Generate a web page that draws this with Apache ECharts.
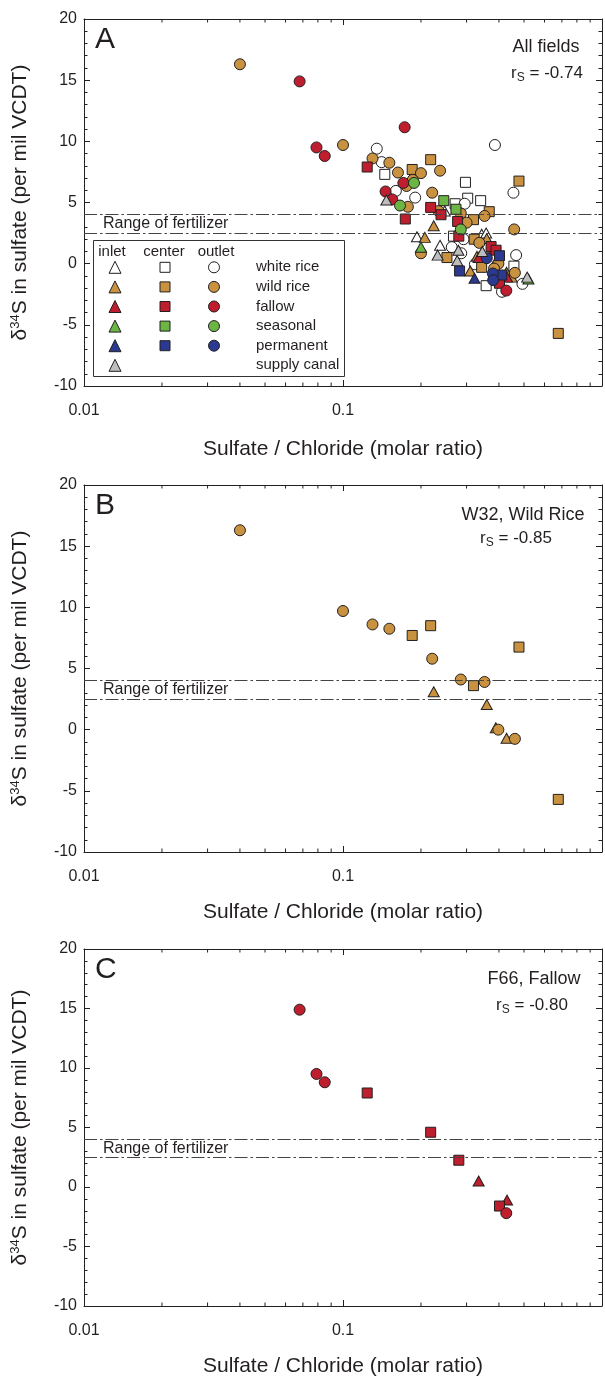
<!DOCTYPE html>
<html><head><meta charset="utf-8">
<script src="https://cdn.jsdelivr.net/npm/echarts@6.0.0/dist/echarts.min.js"></script>
<style>html,body{margin:0;padding:0;background:#fff}#c{width:605px;height:1378px}</style>
</head><body><div id="c"></div>
<script>
// ---------- DATA ----------
// Panel B: W32, wild rice field
const w32Inlet  = [[0.224,3.1],[0.359,2.05],[0.389,0.15],[0.428,-0.7]];
const w32Center = [[0.185,7.7],[0.218,8.5],[0.319,3.6],[0.478,6.75],[0.678,-5.7]];
const w32Outlet = [[0.04,16.3],[0.1,9.7],[0.13,8.6],[0.151,8.25],[0.221,5.8],[0.285,4.1],[0.352,3.9],[0.398,0.0],[0.461,-0.75]];
// Panel C: F66, fallow field
const f66Inlet  = [[0.334,0.5],[0.43,-1.1]];
const f66Center = [[0.124,7.9],[0.218,4.6],[0.28,2.25],[0.402,-1.6]];
const f66Outlet = [[0.068,14.9],[0.079,9.5],[0.085,8.8],[0.427,-2.2]];
// Panel A: other fields
const whiteInlet  = [[0.247,4.3],[0.193,2.2],[0.237,1.5],[0.343,2.4],[0.357,2.5]];
const whiteCenter = [[0.145,7.3],[0.297,6.65],[0.271,4.9],[0.303,5.35],[0.34,5.15],[0.267,2.25],[0.457,-0.2],[0.357,-1.8]];
const whiteOutlet = [[0.135,9.4],[0.386,9.7],[0.141,8.3],[0.455,5.8],[0.16,5.95],[0.19,5.4],[0.295,4.9],[0.263,1.35],[0.286,0.85],[0.292,2.0],[0.466,0.7],[0.493,-1.65],[0.411,-2.3],[0.323,-0.05]];
const wildInletOther  = [[0.207,2.15],[0.31,-0.6],[0.329,0.6],[0.448,-1.1]];
const wildCenterOther = [[0.367,4.25],[0.252,0.5],[0.321,2.0],[0.343,-0.3]];
const wildOutletOther = [[0.163,7.45],[0.2,7.4],[0.237,7.6],[0.186,6.85],[0.176,6.35],[0.178,4.65],[0.234,4.3],[0.3,3.35],[0.458,2.8],[0.2,0.85],[0.336,1.7],[0.383,-0.4]];
const fallowInletOther  = [[0.381,1.15]];
const fallowCenterOther = [[0.174,3.65],[0.239,4.0],[0.277,3.45],[0.373,1.4],[0.39,1.1]];
const fallowOutletOther = [[0.173,11.15],[0.171,6.6],[0.146,5.9],[0.155,5.25]];
const seasonalInlet  = [[0.2,1.35],[0.52,-1.25]];
const seasonalCenter = [[0.245,5.15],[0.273,4.45]];
const seasonalOutlet = [[0.188,6.6],[0.166,4.75],[0.285,2.8]];
const permanentInlet  = [[0.322,-1.2]];
const permanentCenter = [[0.282,-0.6],[0.402,0.65],[0.41,-0.93]];
const permanentOutlet = [[0.359,0.45],[0.379,-0.8],[0.38,-1.35]];
const supplyCanal = [[0.147,5.2],[0.232,0.7],[0.279,1.1],[0.276,0.25],[0.345,1.0],[0.514,-1.1]];

const fertilizerRange = [2.5, 4];
const minorXTicks = [0.02,0.03,0.04,0.05,0.06,0.07,0.08,0.09,0.2,0.3,0.4,0.5,0.6,0.7,0.8,0.9];
const landTypes = ['white rice','wild rice','fallow','seasonal','permanent','supply canal'];
const positions = ['inlet','center','outlet'];
const panelLetters = ['A','B','C'];
const panelTitles = ['All fields','W32, Wild Rice','F66, Fallow'];
const panelRs = ['-0.74','-0.85','-0.80'];

// ---------- STYLE ----------
const INK = '#231f20';
const COL = {white:'#ffffff', wild:'#c99240', fallow:'#be1e2d', seasonal:'#6bb544', permanent:'#2b3990', supply:'#bdbdbd'};
const FONT = 'Liberation Sans, Arial, sans-serif';
const GL = 84, GW = 520, GH = 367;
const tops = [19, 485, 949];
const nameGaps = [53, 50, 50];

const chart = echarts.init(document.getElementById('c'), null, {renderer:'canvas'});

const grid = [], xAxis = [], yAxis = [], series = [];
tops.forEach((t, i) => {
  grid.push({left: GL, top: t, width: GW, height: GH, containLabel: false});
  xAxis.push({type:'log', logBase:10, min:0.01, max:1, gridIndex:i, position:'bottom',
    axisLine:{show:true, onZero:false, lineStyle:{color:INK, width:1}},
    axisTick:{show:true, inside:true, length:6, lineStyle:{color:INK}},
    splitLine:{show:false},
    axisLabel:{show:true, margin:17, fontSize:16, fontFamily:FONT, color:INK,
      formatter: v => (v >= 0.99 ? '' : (v < 0.05 ? '0.01' : '0.1'))},
    name:'Sulfate / Chloride (molar ratio)', nameLocation:'middle', nameGap:nameGaps[i],
    nameTextStyle:{fontSize:21, fontFamily:FONT, color:INK}
  });
  xAxis.push({type:'log', logBase:10, min:0.01, max:1, gridIndex:i, position:'top',
    axisLine:{show:true, onZero:false, lineStyle:{color:INK, width:1}},
    axisTick:{show:true, inside:true, length:6, lineStyle:{color:INK}},
    splitLine:{show:false}, axisLabel:{show:false}
  });
  yAxis.push({type:'value', min:-10, max:20, interval:5, gridIndex:i, position:'left',
    axisLine:{show:true, onZero:false, lineStyle:{color:INK, width:1}},
    axisTick:{show:true, inside:true, length:6, lineStyle:{color:INK}},
    minorTick:{show:true, splitNumber:5, length:3.5, lineStyle:{color:INK}},
    splitLine:{show:false}, minorSplitLine:{show:false},
    axisLabel:{show:true, margin:7, fontSize:16, fontFamily:FONT, color:INK},
    name:'δ{sup|34}S in sulfate (per mil VCDT)', nameLocation:'middle', nameGap:53, nameRotate:90,
    nameTextStyle:{fontSize:21, fontFamily:FONT, color:INK, rich:{sup:{fontSize:13, fontFamily:FONT, color:INK, verticalAlign:'top', lineHeight:22}}}
  });
  yAxis.push({type:'value', min:-10, max:20, interval:5, gridIndex:i, position:'right',
    axisLine:{show:true, onZero:false, lineStyle:{color:INK, width:1}},
    axisTick:{show:true, inside:true, length:6, lineStyle:{color:INK}},
    minorTick:{show:true, splitNumber:5, length:3.5, lineStyle:{color:INK}},
    splitLine:{show:false}, axisLabel:{show:false}
  });
  // minor log ticks (2..9 of each decade) on bottom & top
  series.push({type:'custom', name:'minor'+i, xAxisIndex:2*i, yAxisIndex:2*i, silent:true, clip:false, z:1,
    data: minorXTicks.map(v => [v, -10]),
    renderItem: (params, api) => {
      const v = api.value(0);
      const b = api.coord([v, -10]);
      const tp = api.coord([v, 20]);
      return {type:'group', children:[
        {type:'line', shape:{x1:b[0], y1:b[1], x2:b[0], y2:b[1]-3.5}, style:{stroke:INK, lineWidth:1}},
        {type:'line', shape:{x1:tp[0], y1:tp[1], x2:tp[0], y2:tp[1]+3.5}, style:{stroke:INK, lineWidth:1}}
      ]};
    }
  });
  // fertilizer range lines
  series.push({type:'scatter', name:'fert'+i, xAxisIndex:2*i, yAxisIndex:2*i, data:[], silent:true, z:1,
    markLine:{silent:true, symbol:['none','none'], animation:false,
      label:{show:false},
      lineStyle:{type:[13,3,2.5,3], color:'#444', width:1},
      data: fertilizerRange.map(v => ({yAxis:v}))},
    markArea:{silent:true, animation:false, itemStyle:{color:'rgba(0,0,0,0)'},
      label:{show:true, position:'insideLeft', distance:19, formatter:'Range of fertilizer', fontSize:16, fontFamily:FONT, color:INK},
      data:[[{yAxis:fertilizerRange[0]},{yAxis:fertilizerRange[1]}]]}
  });
});

function sc(name, data, sym, color, gi) {
  const size = sym === 'circle' ? 11 : (sym === 'rect' ? 10 : [11, 10]);
  return {type:'scatter', name, data, symbol:sym, symbolSize:size, xAxisIndex:2*gi, yAxisIndex:2*gi, z:3,
    itemStyle:{color, borderColor:INK, borderWidth:1, opacity:1},
    emphasis:{disabled:true}, animation:false};
}
// Panel A
series.push(
  sc('white rice inlet', whiteInlet, 'triangle', COL.white, 0),
  sc('white rice center', whiteCenter, 'rect', COL.white, 0),
  sc('white rice outlet', whiteOutlet, 'circle', COL.white, 0),
  sc('wild rice inlet', w32Inlet.concat(wildInletOther), 'triangle', COL.wild, 0),
  sc('wild rice center', w32Center.concat(wildCenterOther), 'rect', COL.wild, 0),
  sc('wild rice outlet', w32Outlet.concat(wildOutletOther), 'circle', COL.wild, 0),
  sc('fallow inlet', f66Inlet.concat(fallowInletOther), 'triangle', COL.fallow, 0),
  sc('fallow center', f66Center.concat(fallowCenterOther), 'rect', COL.fallow, 0),
  sc('fallow outlet', f66Outlet.concat(fallowOutletOther), 'circle', COL.fallow, 0),
  sc('seasonal inlet', seasonalInlet, 'triangle', COL.seasonal, 0),
  sc('seasonal center', seasonalCenter, 'rect', COL.seasonal, 0),
  sc('seasonal outlet', seasonalOutlet, 'circle', COL.seasonal, 0),
  sc('permanent inlet', permanentInlet, 'triangle', COL.permanent, 0),
  sc('permanent center', permanentCenter, 'rect', COL.permanent, 0),
  sc('permanent outlet', permanentOutlet, 'circle', COL.permanent, 0),
  sc('supply canal inlet', supplyCanal, 'triangle', COL.supply, 0)
);
// Panel B
series.push(
  sc('W32 inlet', w32Inlet, 'triangle', COL.wild, 1),
  sc('W32 center', w32Center, 'rect', COL.wild, 1),
  sc('W32 outlet', w32Outlet, 'circle', COL.wild, 1)
);
// Panel C
series.push(
  sc('F66 inlet', f66Inlet, 'triangle', COL.fallow, 2),
  sc('F66 center', f66Center, 'rect', COL.fallow, 2),
  sc('F66 outlet', f66Outlet, 'circle', COL.fallow, 2)
);

// Legend: one single-item legend per cell of the inlet/center/outlet grid inside panel A
const rowGap = 19.6, firstRow = 267.3;
const colX = {inlet:115, center:165, outlet:214};
const colSize = {inlet:12, center:10, outlet:11};
const legend = [];
positions.forEach(p => {
  landTypes.forEach((l, k) => {
    if (l === 'supply canal' && p !== 'inlet') return;
    const s = colSize[p];
    legend.push({orient:'vertical', left: colX[p] - s/2 - 0.5, top: firstRow + k*rowGap - s/2 - 0.5, padding:0,
      itemWidth:s, itemHeight:s, selectedMode:false,
      itemStyle:{borderWidth:1, borderColor:INK},
      formatter: () => '', textStyle:{fontSize:5, lineHeight:5},
      data:[l + ' ' + p]});
  });
});

const txt = {fontFamily:FONT, fill:INK};
const graphic = [
  {type:'rect', shape:{x:93.5, y:240.5, width:251, height:136}, style:{fill:'#fff', stroke:'#333', lineWidth:1}, z:-1},
  {type:'text', x:112, y:252, style:Object.assign({text:'inlet', fontSize:15, align:'center', verticalAlign:'middle'}, txt)},
  {type:'text', x:164, y:252, style:Object.assign({text:'center', fontSize:15, align:'center', verticalAlign:'middle'}, txt)},
  {type:'text', x:216, y:252, style:Object.assign({text:'outlet', fontSize:15, align:'center', verticalAlign:'middle'}, txt)}
];
landTypes.forEach((l, k) => {
  graphic.push({type:'text', x:256, y:firstRow + k*rowGap, style:Object.assign({text:l, fontSize:15, align:'left', verticalAlign:'middle'}, txt)});
});
const titleCx = [546, 523, 534], titleDy = [28, 30, 30], rsCx = [547, 516, 532], rsDy = [54, 53, 56];
tops.forEach((t, i) => {
  graphic.push({type:'text', x:95, y:t + 21, style:Object.assign({text:panelLetters[i], fontSize:30, align:'left', verticalAlign:'middle'}, txt)});
  graphic.push({type:'text', x:titleCx[i], y:t + titleDy[i], style:Object.assign({text:panelTitles[i], fontSize:18, align:'center', verticalAlign:'middle'}, txt)});
  graphic.push({type:'text', x:rsCx[i], y:t + rsDy[i], style:Object.assign({text:'r{sub|S} = ' + panelRs[i], fontSize:17, align:'center', verticalAlign:'middle', lineHeight:22,
    rich:{sub:{fontSize:12, fontFamily:FONT, fill:INK, verticalAlign:'bottom', lineHeight:22}}}, txt)});
});

chart.setOption({animation:false, backgroundColor:'#fff', grid, xAxis, yAxis, series, legend, graphic});
</script></body></html>
